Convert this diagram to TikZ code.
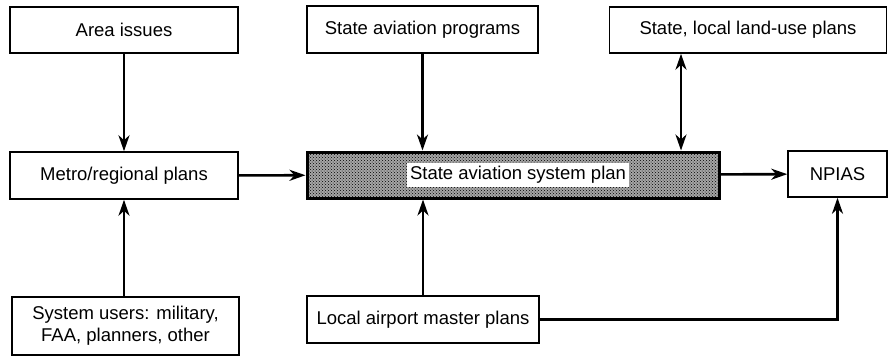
\documentclass[tikz,border=0pt]{standalone}
\usepackage{fontspec}
\setmainfont{Liberation Sans}
\usetikzlibrary{arrows.meta,patterns}

\begin{document}
\begin{tikzpicture}[>={Stealth[length=16pt,width=11pt,inset=5pt]},x=1pt,y=-1pt,
    box/.style={draw,line width=1.5pt,inner sep=0pt,align=center,
        font=\fontsize{18.5}{22}\selectfont},
    conn/.style={line width=2.6pt}]
    \useasboundingbox (0,0) rectangle (889,357);

    \node[box,minimum width=228,minimum height=46] (area) at (124,30) {Area issues};
    \node[box,minimum width=231,minimum height=47] (prog) at (422.5,29.5) {State aviation programs};
    \node[box,minimum width=277,minimum height=46] (land) at (748,30) {State, local land-use plans};

    \node[box,minimum width=228,minimum height=47] (metro) at (124,175.5) {Metro/regional plans};
    \node[box,line width=3pt,minimum width=412,minimum height=46,
        preaction={fill=black!35},pattern=crosshatch dots] (sasp) at (513,175) {};
    \node[box,draw=none,fill=white,inner sep=3.5pt] (saspl) at (518,175) {State aviation system plan};
    \node[box,minimum width=99,minimum height=46] (npias) at (837.5,174) {NPIAS};

    \node[box,minimum width=227,minimum height=58] (users) at (125.5,326) {System users: military,\\FAA, planners, other};
    \node[box,minimum width=232,minimum height=47] (local) at (423,319.5) {Local airport master plans};

    \draw[conn,->] (area) -- (metro);
    \draw[conn,->] (prog) -- (prog |- sasp.north);
    \draw[conn,<->] ([xshift=-67]land.south) -- ([xshift=-67]land.south |- sasp.north);
    \draw[conn,->] (metro) -- (sasp);
    \draw[conn,->] (sasp) -- (npias);
    \draw[conn,->] (users.north -| metro) -- (metro);
    \draw[conn,->] (local.north) -- (local.north |- sasp.south);
    \draw[conn,->] (local) -| (npias);
\end{tikzpicture}
\end{document}
